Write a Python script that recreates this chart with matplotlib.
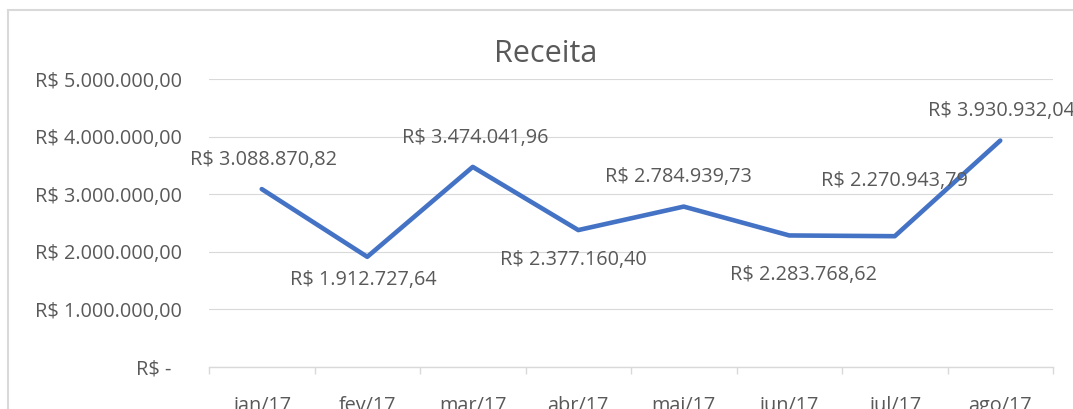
import matplotlib
matplotlib.use("Agg")
import matplotlib.pyplot as plt
from matplotlib.patches import Rectangle
from matplotlib.ticker import FixedLocator, NullFormatter

plt.rcParams['font.family'] = ['Open Sans', 'DejaVu Sans']

# ---- data ----
categories = ["jan/17", "fev/17", "mar/17", "abr/17", "mai/17", "jun/17", "jul/17", "ago/17"]
receita = [3088870.82, 1912727.64, 3474041.96, 2377160.40,
           2784939.73, 2283768.62, 2270943.79, 3930932.04]
y_ticks = [0, 1000000, 2000000, 3000000, 4000000, 5000000]
title = "Receita"

# label offsets relative to each point (pixels, +up)
label_offsets_px = [(2, 24), (-4, -28), (2, 24), (-5, -35),
                    (-5, 25), (14, -44.5), (0, 50), (1, 24.5)]


def brl(v):
    if v == 0:
        return "R$ -  "
    s = f"{v:,.2f}"
    s = s.replace(",", "X").replace(".", ",").replace("X", ".")
    return "R$ " + s


W, H = 1073, 409
DPI = 100
fig = plt.figure(figsize=(W / DPI, H / DPI), dpi=DPI)
fig.patch.set_facecolor("white")

TXT = "#595959"
GRID = "#D9D9D9"

# chart border
fig.add_artist(Rectangle((8 / W, -0.2), 1.2, 1.2 - 10 / H,
                         transform=fig.transFigure, fill=False,
                         edgecolor=GRID, linewidth=1.5))

left, right = 209 / W, 1053 / W
bottom, top = (H - 367) / H, (H - 79) / H
ax = fig.add_axes([left, bottom, right - left, top - bottom])

x = list(range(len(categories)))
ax.plot(x, receita, color="#4472C4", linewidth=3.3,
        solid_joinstyle="round", solid_capstyle="round", zorder=3)

ax.set_xlim(-0.5, len(categories) - 0.5)
ax.set_ylim(0, 5000000)

ax.set_yticks(y_ticks)
ax.set_yticklabels([brl(v) for v in y_ticks])
ax.yaxis.grid(True, color=GRID, linewidth=0.8)
ax.set_axisbelow(True)

ax.set_xticks(x)
ax.set_xticklabels(categories)
ax.xaxis.set_minor_locator(FixedLocator([i - 0.5 for i in range(len(categories) + 1)]))
ax.xaxis.set_minor_formatter(NullFormatter())

ax.tick_params(axis="x", which="major", length=0, pad=21, labelsize=14.3, labelcolor=TXT)
ax.tick_params(axis="x", which="minor", length=5, width=1, color=GRID, direction="out")
ax.tick_params(axis="y", which="both", length=0, pad=19.4, labelsize=14.3, labelcolor=TXT)

for sp in ["top", "right", "left"]:
    ax.spines[sp].set_visible(False)
ax.spines["bottom"].set_color(GRID)
ax.spines["bottom"].set_linewidth(1)

for xi, v, (dx, dy) in zip(x, receita, label_offsets_px):
    ax.annotate(brl(v), (xi, v), xytext=(dx * 0.72, dy * 0.72),
                textcoords="offset points", ha="center", va="baseline",
                fontsize=14.3, color=TXT, annotation_clip=False)

fig.text(546 / W, (H - 62) / H, title, ha="center", va="baseline",
         fontsize=22, color=TXT)

fig.savefig("out.png", dpi=DPI, facecolor="white")
